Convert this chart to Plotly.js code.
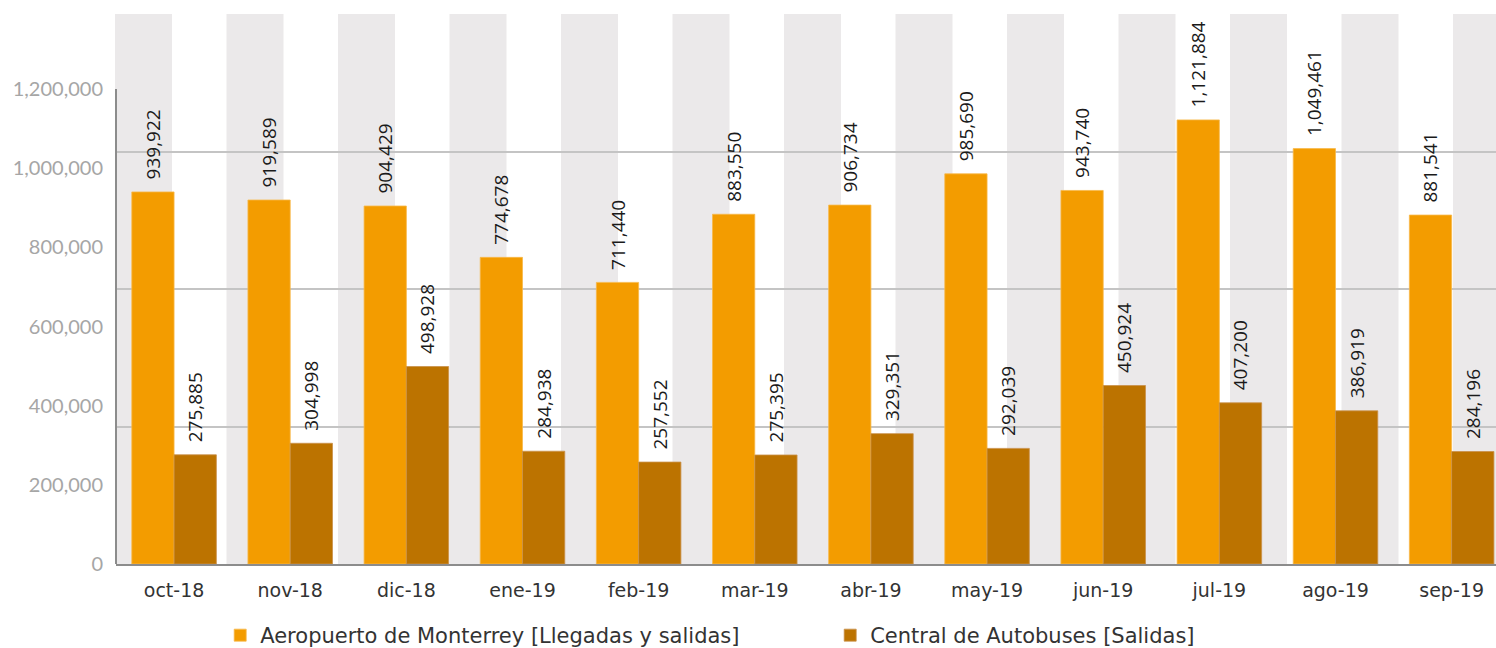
<!DOCTYPE html>
<html>
<head>
<meta charset="utf-8">
<script src="https://cdn.plot.ly/plotly-3.0.1.min.js"></script>
<style>
  html, body { margin: 0; padding: 0; background: #ffffff; }
  #chart { width: 1496px; height: 648px; }
</style>
</head>
<body>
<div id="chart"></div>
<script>
// ---- data ----
const categories = ['oct-18', 'nov-18', 'dic-18', 'ene-19', 'feb-19', 'mar-19',
                    'abr-19', 'may-19', 'jun-19', 'jul-19', 'ago-19', 'sep-19'];
const seriesNames = ['Aeropuerto de Monterrey [Llegadas y salidas]', 'Central de Autobuses [Salidas]'];
const aeropuerto = [939922, 919589, 904429, 774678, 711440, 883550,
                    906734, 985690, 943740, 1121884, 1049461, 881541];
const autobuses = [275885, 304998, 498928, 284938, 257552, 275395,
                   329351, 292039, 450924, 407200, 386919, 284196];
const yTickVals = [0, 200000, 400000, 600000, 800000, 1000000, 1200000];
const yTickText = ['0', '200,000', '400,000', '600,000', '800,000', '1,000,000', '1,200,000'];

// ---- styling ----
const ORANGE = '#F39C00';
const BROWN = '#BC7300';
const BAND = '#EBE9EA';
const GRID = '#C4C4C4';
const AXIS = '#8C8C8C';
const W = 1496, H = 648;
const M = {l: 116, r: 0, t: 14, b: 84, autoexpand: false};
const plotW = W - M.l - M.r;
const yFont = 'Lato, "Open Sans", sans-serif';
const txtFont = '"DejaVu Sans", Lato, sans-serif';
const labelFont = '"Open Sans", "Noto Sans", sans-serif';
const TXT = '#333333';

// label text: an en space in front keeps a little air between bar top and label
const fmt = v => '\u2002' + v.toLocaleString('en-US');

const traces = [
  {
    type: 'bar', name: seriesNames[0], x: categories, y: aeropuerto,
    marker: {color: ORANGE, line: {color: '#F7B94A', width: 0.8}},
    text: aeropuerto.map(fmt), textposition: 'outside', textangle: -90,
    constraintext: 'none',
    textfont: {family: labelFont, size: 19, color: '#1a1a1a'},
    cliponaxis: false, hoverinfo: 'x+y'
  },
  {
    type: 'bar', name: seriesNames[1], x: categories, y: autobuses,
    marker: {color: BROWN, line: {color: '#C9904A', width: 0.8}},
    text: autobuses.map(fmt), textposition: 'outside', textangle: -90,
    constraintext: 'none',
    textfont: {family: labelFont, size: 19, color: '#1a1a1a'},
    cliponaxis: false, hoverinfo: 'x+y'
  },
  // empty helper trace so the background grid axis is drawn
  {type: 'scatter', x: [], y: [], yaxis: 'y2', showlegend: false, hoverinfo: 'skip'}
];

// decorative background stripes (not data)
const shapes = [];
const bandPeriod = 111.5, bandWidth = 56;
for (let k = 0; k * bandPeriod < plotW; k++) {
  shapes.push({
    type: 'rect', xref: 'paper', yref: 'paper', layer: 'below',
    x0: (k * bandPeriod - 1) / plotW, x1: Math.min(1.01, (k * bandPeriod + bandWidth) / plotW),
    y0: 0, y1: 1, fillcolor: BAND, line: {width: 0}
  });
}
// vertical axis line, only up to the last tick
shapes.push({
  type: 'line', xref: 'paper', yref: 'y', layer: 'above',
  x0: 0, x1: 0, y0: yTickVals[0], y1: yTickVals[yTickVals.length - 1],
  line: {color: AXIS, width: 2}
});

const yMax = yTickVals[yTickVals.length - 1] * 550 / 475;

const layout = {
  width: W, height: H,
  margin: M,
  paper_bgcolor: '#ffffff', plot_bgcolor: 'rgba(0,0,0,0)',
  barmode: 'group', bargap: 0.272, bargroupgap: 0,
  font: {family: txtFont},
  xaxis: {
    type: 'category', range: [-0.5, 11.382], fixedrange: true,
    showline: true, linecolor: AXIS, linewidth: 2,
    ticks: 'outside', ticklen: 8, tickcolor: 'rgba(0,0,0,0)', showgrid: false,
    tickfont: {family: txtFont, size: 19, color: TXT}
  },
  yaxis: {
    range: [0, yMax], fixedrange: true,
    tickvals: yTickVals, ticktext: yTickText,
    showgrid: false, zeroline: false, showline: false,
    ticks: 'outside', ticklen: 8, tickcolor: 'rgba(0,0,0,0)',
    tickfont: {family: yFont, size: 20, color: '#A6A6A6'}
  },
  yaxis2: {
    overlaying: 'y', range: [0, 4], tickvals: [1, 2, 3],
    showticklabels: false, showgrid: true, gridcolor: GRID, gridwidth: 2,
    zeroline: false, showline: false, ticks: '', fixedrange: true
  },
  showlegend: true,
  legend: {
    orientation: 'h', x: 0.0755, xanchor: 'left', y: -0.13, yanchor: 'middle',
    font: {family: txtFont, size: 21, color: TXT},
    entrywidth: 565, entrywidthmode: 'pixels',
    bgcolor: 'rgba(0,0,0,0)'
  },
  shapes: shapes
};

Plotly.newPlot('chart', traces, layout, {displayModeBar: false, responsive: false, staticPlot: true});
</script>
</body>
</html>
